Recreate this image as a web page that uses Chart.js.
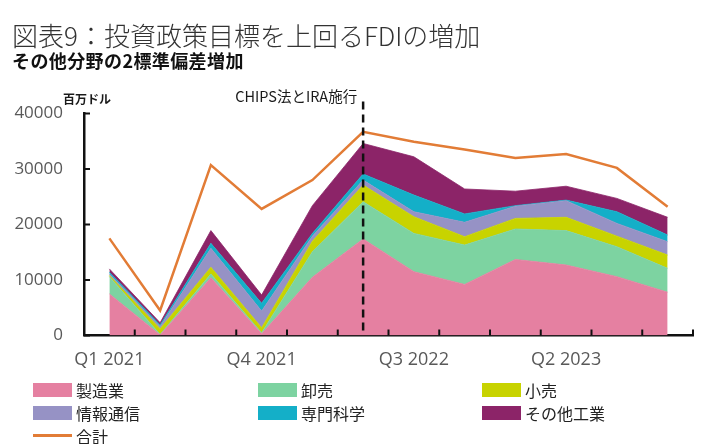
<!DOCTYPE html>
<html lang="ja">
<head>
<meta charset="utf-8">
<script src="https://cdn.jsdelivr.net/npm/chart.js@4.4.1/dist/chart.umd.min.js"></script>
<style>
  html, body { margin: 0; padding: 0; background: #fff; }
  #wrap { position: relative; width: 711px; height: 444px; overflow: hidden; }
  #fdiChart { position: absolute; left: 0; top: 0; }
  .title { position: absolute; left: 12px; top: 22px; font: 300 26px "Noto Sans CJK JP"; line-height: 1; color: #333; white-space: nowrap; }
  .subtitle { position: absolute; left: 12px; top: 51px; font: 700 18px "Noto Sans CJK JP"; line-height: 1; color: #111; white-space: nowrap; letter-spacing: 0.4px; }
  #legend { position: absolute; left: 33px; top: 379px; display: grid; grid-template-columns: 225px 224px 200px; row-gap: 2px; }
  .item { display: flex; align-items: center; height: 21px; font: 400 16px "Noto Sans CJK JP"; line-height: 1; color: #222; }
  .item i { display: inline-block; width: 39px; margin-right: 4px; }
</style>
</head>
<body>
<div id="wrap">
  <canvas id="fdiChart" width="711" height="444"></canvas>
  <div class="title">図表9：投資政策目標を上回るFDIの増加</div>
  <div class="subtitle">その他分野の2標準偏差増加</div>
  <div id="legend"></div>
</div>
<script>
const quarters = ["Q1 2021", "Q2 2021", "Q3 2021", "Q4 2021", "Q1 2022", "Q2 2022",
  "Q3 2022", "Q4 2022", "Q1 2023", "Q2 2023", "Q3 2023", "Q4 2023"];

// 百万ドル
const manufacturing = [7500, 100, 10400, 300, 10500, 17400, 11500, 9200, 13700, 12700, 10600, 7800];
const wholesale = [3100, 100, 700, 200, 4600, 6700, 6900, 7100, 5500, 6200, 5400, 4300];
const retail = [200, 1000, 1200, 900, 1900, 3000, 3000, 1500, 1900, 2400, 1900, 2400];
const infoComm = [300, 400, 3400, 3000, 900, 900, 900, 2600, 2200, 3000, 2300, 2400];
const professional = [300, 300, 900, 1400, 500, 1100, 3000, 1500, 100, 100, 2100, 1200];
const otherIndustry = [600, 400, 2300, 1500, 5000, 5500, 6900, 4500, 2600, 2500, 2400, 3200];
const total = [17500, 4500, 30700, 22800, 28000, 36700, 34900, 33500, 32000, 32700, 30200, 23200];

const yTicks = [0, 10000, 20000, 30000, 40000];
const eventQuarter = "Q2 2022";
const eventLabel = "CHIPS法とIRA施行";
const unitLabel = "百万ドル";

const areaSeries = [
  { label: "製造業", data: manufacturing, color: "#E580A1" },
  { label: "卸売", data: wholesale, color: "#7DD3A1" },
  { label: "小売", data: retail, color: "#C8D300" },
  { label: "情報通信", data: infoComm, color: "#9692C5" },
  { label: "専門科学", data: professional, color: "#14AFC8" },
  { label: "その他工業", data: otherIndustry, color: "#8C2468" }
];
const totalColor = "#E27C36";

const datasets = areaSeries.map((s, i) => ({
  label: s.label,
  data: s.data,
  stack: "sectors",
  backgroundColor: s.color,
  borderColor: s.color,
  borderWidth: 0.8,
  pointRadius: 0,
  fill: i === 0 ? "origin" : "-1",
  tension: 0,
  order: 1
}));
datasets.push({
  label: "合計",
  data: total,
  stack: "total",
  borderColor: totalColor,
  backgroundColor: totalColor,
  borderWidth: 2.5,
  pointRadius: 0,
  fill: false,
  tension: 0,
  order: 0,
  isLine: true
});

const extras = {
  id: "extras",
  afterDraw(chart) {
    const { ctx, chartArea, scales: { x, y } } = chart;
    const half = (x.getPixelForValue(1) - x.getPixelForValue(0)) / 2;
    ctx.save();
    ctx.strokeStyle = "#111";
    ctx.lineWidth = 2;
    // inward tick marks
    for (let i = 0; i < quarters.length; i++) {
      const px = x.getPixelForValue(i) + half;
      ctx.beginPath();
      ctx.moveTo(px, chartArea.bottom);
      ctx.lineTo(px, chartArea.bottom - 6);
      ctx.stroke();
    }
    yTicks.forEach((v) => {
      const py = y.getPixelForValue(v);
      ctx.beginPath();
      ctx.moveTo(chartArea.left, py);
      ctx.lineTo(chartArea.left + 6, py);
      ctx.stroke();
    });
    // event line
    const ex = x.getPixelForValue(quarters.indexOf(eventQuarter));
    ctx.setLineDash([8, 5]);
    ctx.lineWidth = 2.5;
    ctx.beginPath();
    ctx.moveTo(ex, chartArea.top - 12);
    ctx.lineTo(ex, chartArea.bottom);
    ctx.stroke();
    ctx.setLineDash([]);
    ctx.fillStyle = "#1a1a1a";
    ctx.font = "14.5px 'Noto Sans CJK JP'";
    ctx.textAlign = "right";
    ctx.textBaseline = "middle";
    ctx.fillText(eventLabel, ex - 6, chartArea.top - 17);
    ctx.font = "bold 12px 'Noto Sans CJK JP'";
    ctx.textAlign = "left";
    ctx.fillText(unitLabel, chartArea.left - 21, chartArea.top - 14);
    ctx.restore();
  }
};

const htmlLegend = {
  id: "htmlLegend",
  afterUpdate(chart) {
    const box = document.getElementById("legend");
    box.innerHTML = "";
    chart.data.datasets.forEach((ds) => {
      const item = document.createElement("div");
      item.className = "item";
      const mark = document.createElement("i");
      if (ds.isLine) {
        mark.style.height = "2.5px";
        mark.style.background = ds.borderColor;
      } else {
        mark.style.height = "14px";
        mark.style.background = ds.backgroundColor;
      }
      item.appendChild(mark);
      item.appendChild(document.createTextNode(ds.label));
      box.appendChild(item);
    });
  }
};

new Chart(document.getElementById("fdiChart"), {
  type: "line",
  data: { labels: quarters, datasets: datasets },
  plugins: [extras, htmlLegend],
  options: {
    responsive: false,
    animation: false,
    layout: { padding: { top: 113.5, right: 18, bottom: 68.5, left: 0 } },
    plugins: {
      legend: { display: false },
      title: { display: false },
      tooltip: { enabled: false },
      filler: { propagate: false }
    },
    scales: {
      x: {
        type: "category",
        offset: true,
        grid: { display: false, drawTicks: false },
        border: { display: true, color: "#111", width: 2.5 },
        ticks: {
          autoSkip: false,
          maxRotation: 0,
          padding: 14,
          color: "#595959",
          font: { family: "Open Sans", size: 18 },
          callback: (v, i) => (i % 3 === 0 ? quarters[i] : "")
        },
        afterFit: (scale) => { scale.height = 40; }
      },
      y: {
        stacked: true,
        min: 0,
        max: 40000,
        grid: { display: false, drawTicks: false },
        border: { display: true, color: "#111", width: 2.5 },
        ticks: {
          stepSize: 10000,
          padding: 21,
          color: "#595959",
          font: { family: "Open Sans", size: 17 },
          callback: (v) => String(v)
        },
        afterFit: (scale) => { scale.width = 84; }
      }
    }
  }
});
</script>
</body>
</html>
